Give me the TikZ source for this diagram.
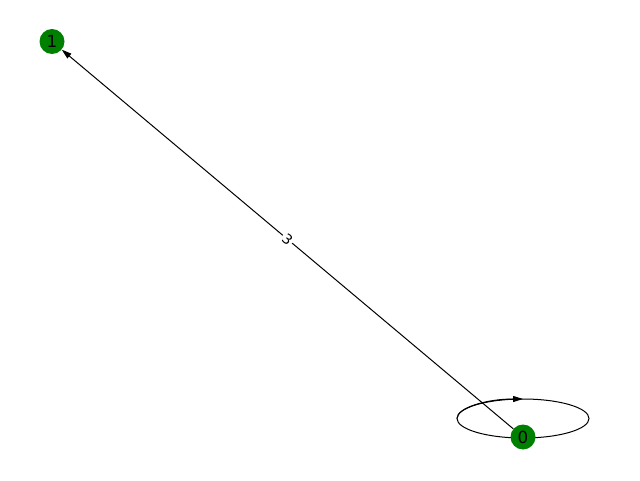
\documentclass[tikz,border=0pt]{standalone}
\usepackage{fontspec}
\setmainfont{DejaVu Sans}
\usetikzlibrary{arrows.meta}
\definecolor{nxgreen}{HTML}{008000}
\begin{document}
\begin{tikzpicture}[x=1pt,y=1pt,
  vertex/.style={circle,fill=nxgreen,minimum size=25pt,inner sep=0pt,font=\fontsize{16.7}{20}\selectfont},
  edgeline/.style={line width=1pt,draw=black},
  tipstyle/.style={-{Triangle[length=10pt,width=6pt]}},
  elabel/.style={fill=white,inner sep=1.5pt,font=\fontsize{13.9}{16}\selectfont}]
\useasboundingbox (0,0) rectangle (640,480);
\coordinate (loopc) at (523,61.5);
\draw[edgeline] (loopc) ellipse [x radius=66, y radius=19.5];
\draw[edgeline,tipstyle] ([xshift=-66pt]loopc) arc[start angle=180,end angle=90,x radius=66,y radius=19.5];
\node[vertex] (n0) at (523,43) {0};
\node[vertex] (n1) at (52,438.5) {1};
\draw[edgeline,tipstyle] (n0) -- (n1) node[midway,elabel,rotate=-40.1] (lab) {3};
\end{tikzpicture}
\end{document}
